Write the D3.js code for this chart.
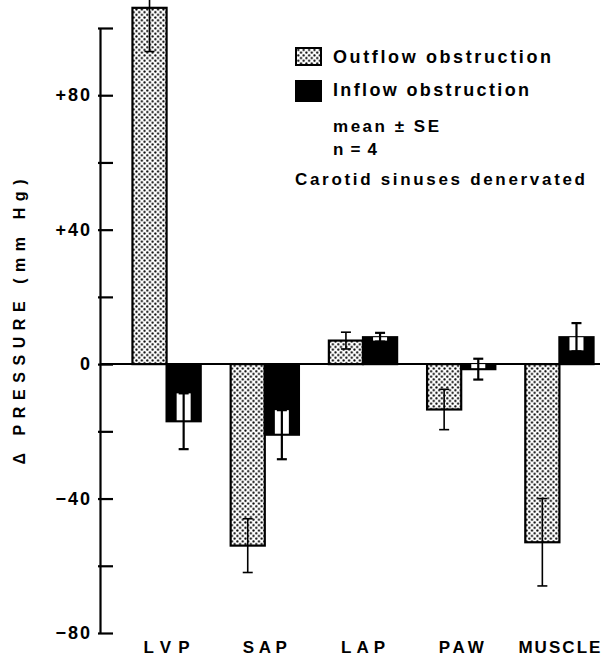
<!DOCTYPE html>
<html>
<head>
<meta charset="utf-8">
<script src="https://cdn.jsdelivr.net/npm/d3@7"></script>
<style>
body{margin:0;background:#fff;}
text{font-family:"Liberation Sans",Arial,sans-serif;font-weight:bold;fill:#000;}
</style>
</head>
<body>
<div id="chart"></div>
<script>
// values (mm Hg)
var categories=["LVP","SAP","LAP","PAW","MUSCLE"];
var series=["Outflow obstruction","Inflow obstruction"];
var outflowMean=[106,-54,7,-13.5,-53];
var outflowSE=[13,8,2.5,6,13];
var inflowMean=[-17,-21,8,-1.5,8];
var inflowSE=[8.3,7.3,1.3,3.1,4.2];
var yTicks=[-80,-60,-40,-20,0,20,40,60,80,100];
var yLabels={"-80":"\u221280","-40":"\u221240","0":"0","40":"+40","80":"+80"};
var notes=["mean \u00b1 SE","n = 4","Carotid sinuses denervated"];

var width=603,height=663;

var svg=d3.select("#chart").append("svg")
	.attr("width",width)
	.attr("height",height);

svg.append("rect").attr("width",width).attr("height",height).attr("fill","white");

// dotted fill
var pat=svg.append("defs").append("pattern")
	.attr("id","dots")
	.attr("patternUnits","userSpaceOnUse")
	.attr("width",5.4).attr("height",5.4);
pat.append("rect").attr("width",5.4).attr("height",5.4).attr("fill","white");
pat.append("circle").attr("cx",1.3).attr("cy",1.3).attr("r",1.1).attr("fill","black");
pat.append("circle").attr("cx",4.0).attr("cy",4.0).attr("r",1.1).attr("fill","black");

var y=d3.scaleLinear().domain([-80,100]).range([633,28]);
var x0=d3.scaleBand().domain(categories).range([103,623]).paddingInner(0.305).paddingOuter(0.3);
var x1=d3.scaleBand().domain(series).range([0,x0.bandwidth()]);

var rows=categories.map(function(c,i){
	return {cat:c,vals:[
		{s:series[0],m:outflowMean[i],se:outflowSE[i]},
		{s:series[1],m:inflowMean[i],se:inflowSE[i]}
	]};
});

// zero line
svg.append("line")
	.attr("x1",100).attr("x2",600)
	.attr("y1",y(0)).attr("y2",y(0))
	.attr("stroke","black").attr("stroke-width",2);

var groups=svg.selectAll(".grp").data(rows).enter().append("g")
	.attr("class","grp")
	.attr("transform",function(d){return "translate("+x0(d.cat)+",0)";});

groups.selectAll(".bar").data(function(d){return d.vals;}).enter().append("rect")
	.attr("class","bar")
	.attr("x",function(d){return x1(d.s);})
	.attr("width",x1.bandwidth())
	.attr("y",function(d){return y(Math.max(0,d.m));})
	.attr("height",function(d){return Math.abs(y(d.m)-y(0));})
	.attr("fill",function(d){return d.s==series[0]?"url(#dots)":"black";})
	.attr("stroke","black")
	.attr("stroke-width",2.2);

// white window behind error bars on the black bars
groups.selectAll(".win").data(function(d){return d.vals.filter(function(v){return v.s==series[1];});}).enter().append("rect")
	.attr("class","win")
	.attr("x",function(d){return x1(d.s)+x1.bandwidth()/2-7;})
	.attr("width",14)
	.attr("y",function(d){
		if (d.m<0) return y(Math.min(d.m+d.se,0));
		return y(d.m);
	})
	.attr("height",function(d){
		if (d.m<0) return y(d.m)-y(Math.min(d.m+d.se,0))-1;
		return y(Math.max(d.m-d.se,0))-y(d.m)-1;
	})
	.attr("fill","white");

// error bars
var eb=groups.selectAll(".err").data(function(d){return d.vals;}).enter().append("g")
	.attr("class","err")
	.attr("transform",function(d){return "translate("+(x1(d.s)+x1.bandwidth()/2)+",0)";})
	.attr("stroke","black")
	.attr("stroke-width",function(d){return d.s==series[0]?1.6:2.2;});
eb.append("line")
	.attr("y1",function(d){return y(d.m+d.se);})
	.attr("y2",function(d){return y(d.m-d.se);});
eb.append("line").attr("x1",-5).attr("x2",5)
	.attr("y1",function(d){return y(d.m+d.se);})
	.attr("y2",function(d){return y(d.m+d.se);});
eb.append("line").attr("x1",-5).attr("x2",5)
	.attr("y1",function(d){return y(d.m-d.se);})
	.attr("y2",function(d){return y(d.m-d.se);});

// y axis
var yAxis=d3.axisLeft(y)
	.tickValues(yTicks)
	.tickSize(-13)
	.tickSizeOuter(0)
	.tickPadding(8)
	.tickFormat(function(d){return yLabels[d]||"";});
var ga=svg.append("g").attr("transform","translate(100,0)").call(yAxis);
ga.select(".domain").attr("stroke","black").attr("stroke-width",2.2);
ga.selectAll(".tick line").attr("stroke","black").attr("stroke-width",2.2).attr("x1",-2);
ga.selectAll(".tick text")
	.attr("font-family","Liberation Sans, Arial, sans-serif")
	.attr("font-weight","bold")
	.attr("font-size",18)
	.attr("letter-spacing",2)
	.attr("fill","black");

svg.append("text")
	.attr("transform","translate(25,"+322+") rotate(-90)")
	.attr("text-anchor","middle")
	.attr("font-size",16)
	.attr("textLength",285)
	.attr("lengthAdjust","spacing")
	.text("\u0394 PRESSURE (mm Hg)");

// category labels
var catW={LVP:46,SAP:44,LAP:44,PAW:45,MUSCLE:82};
svg.selectAll(".cat").data(categories).enter().append("text")
	.attr("class","cat")
	.attr("x",function(d){return x0(d)+x0.bandwidth()/2;})
	.attr("y",653)
	.attr("text-anchor","middle")
	.attr("font-size",17)
	.attr("textLength",function(d){return catW[d];})
	.attr("lengthAdjust","spacing")
	.text(function(d){return d;});

// legend
var leg=svg.append("g");
var legW=[218,196];
series.forEach(function(s,i){
	leg.append("rect")
		.attr("x",296).attr("y",48+i*33)
		.attr("width",25).attr("height",i==0?17:20)
		.attr("fill",i==0?"url(#dots)":"black")
		.attr("stroke","black").attr("stroke-width",2);
	leg.append("text")
		.attr("x",333).attr("y",63+i*33)
		.attr("font-size",18)
		.attr("textLength",legW[i])
		.attr("lengthAdjust","spacing")
		.text(s);
});
var noteX=[333,333,295],noteY=[132,155,185],noteW=[106,44,290];
notes.forEach(function(t,i){
	leg.append("text")
		.attr("x",noteX[i]).attr("y",noteY[i])
		.attr("font-size",17)
		.attr("textLength",noteW[i])
		.attr("lengthAdjust","spacing")
		.text(t);
});
</script>
</body>
</html>
